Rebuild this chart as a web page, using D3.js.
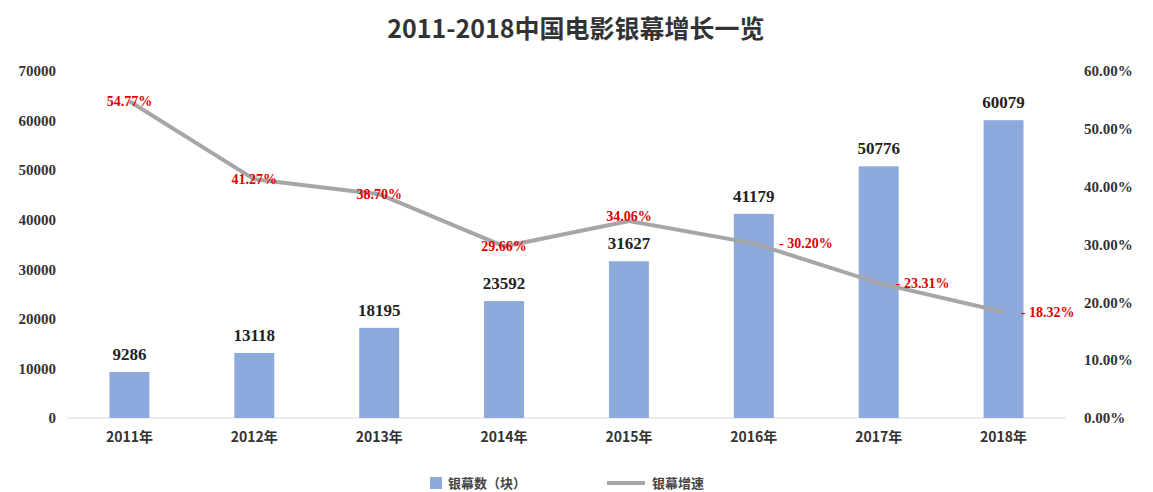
<!DOCTYPE html>
<html><head><meta charset="utf-8">
<script src="https://cdn.jsdelivr.net/npm/d3@7"></script>
<style>body{margin:0;background:#fff}</style>
</head><body><div id="chart"></div>
<script>
// data
const years = ["2011年","2012年","2013年","2014年","2015年","2016年","2017年","2018年"];
const screens = [9286,13118,18195,23592,31627,41179,50776,60079];
const growth = [54.77,41.27,38.70,29.66,34.06,30.20,23.31,18.32];
const leftTicks = [0,10000,20000,30000,40000,50000,60000,70000];
const rightTicks = [0,10,20,30,40,50,60];

const width = 1153, height = 492;
const svg = d3.select("#chart").append("svg").attr("width", width).attr("height", height);

const x = d3.scaleBand().domain(years).range([67, 1066]).paddingInner(0.68).paddingOuter(0.34);
const yL = d3.scaleLinear().domain([0,70000]).range([418,71]);
const yR = d3.scaleLinear().domain([0,60]).range([418,71]);

svg.append("text").attr("x", 576).attr("y", 38).attr("text-anchor","middle")
  .style("font-family","'Noto Sans CJK SC'").style("font-weight","bold").style("font-size","25px")
  .attr("fill","#333").text("2011-2018中国电影银幕增长一览");

// left axis
const ga = svg.append("g").attr("transform","translate(60,0)")
  .call(d3.axisLeft(yL).tickValues(leftTicks).tickSize(0).tickPadding(4).tickFormat(d3.format("d")));
ga.select(".domain").remove();
const gr = svg.append("g").attr("transform","translate(1080,0)")
  .call(d3.axisRight(yR).tickValues(rightTicks).tickSize(0).tickPadding(4).tickFormat(d => d.toFixed(2)+"%"));
gr.select(".domain").remove();
svg.selectAll(".tick text").style("font-family","'Liberation Serif'").style("font-weight","bold")
  .style("font-size","15px").attr("fill","#333");

// baseline
svg.append("line").attr("x1",67).attr("x2",1066).attr("y1",418).attr("y2",418).attr("stroke","#d9d9d9");

const gx = svg.append("g").attr("transform","translate(0,424)").call(d3.axisBottom(x).tickSize(0).tickPadding(8));
gx.select(".domain").remove();
gx.selectAll("text").style("font-family","'Noto Sans CJK SC'").style("font-weight","bold")
  .style("font-size","14px").attr("fill","#333");

svg.selectAll("rect.bar").data(screens).enter().append("rect")
  .attr("x",(d,i)=>x(years[i])).attr("width",x.bandwidth())
  .attr("y",d=>yL(d)).attr("height",d=>418-yL(d)).attr("fill","#8eaadc");

svg.selectAll("text.bl").data(screens).enter().append("text")
  .attr("x",(d,i)=>x(years[i])+x.bandwidth()/2).attr("y",d=>yL(d)-12)
  .attr("text-anchor","middle").style("font-family","'Liberation Serif'").style("font-weight","bold")
  .style("font-size","17px").attr("fill","#222").text(d=>d);

const cx = i => x(years[i]) + x.bandwidth()/2;
svg.append("path").datum(growth)
  .attr("d", d3.line().x((d,i)=>cx(i)).y(d=>yR(d)))
  .attr("fill","none").attr("stroke","#a6a6a6").attr("stroke-width",4);

// label offsets (dx, dy) relative to the point
const off = [[0,0],[0,0],[0,0],[0,0],[0,-5],[52,0],[44,0],[44,0]];
svg.selectAll("text.gl").data(growth).enter().append("text")
  .attr("x",(d,i)=>cx(i)+off[i][0]).attr("y",(d,i)=>yR(d)+off[i][1]+5)
  .attr("text-anchor","middle").style("font-family","'Liberation Serif'").style("font-weight","bold")
  .style("font-size","14px").attr("fill","#e00000")
  .text((d,i)=> (i>=5 ? "- " : "") + d.toFixed(2)+"%");

// legend
svg.append("rect").attr("x",430).attr("y",477).attr("width",12).attr("height",12).attr("fill","#8eaadc");
svg.append("text").attr("x",448).attr("y",488).text("银幕数（块）");
svg.append("line").attr("x1",607).attr("x2",645).attr("y1",483).attr("y2",483).attr("stroke","#a6a6a6").attr("stroke-width",4);
svg.append("text").attr("x",652).attr("y",488).text("银幕增速");
svg.selectAll("text:not([class])").filter(function(){return !this.style.fontFamily;})
  .style("font-family","'Noto Sans CJK SC'").style("font-weight","bold").style("font-size","13px").attr("fill","#444");
</script></body></html>
